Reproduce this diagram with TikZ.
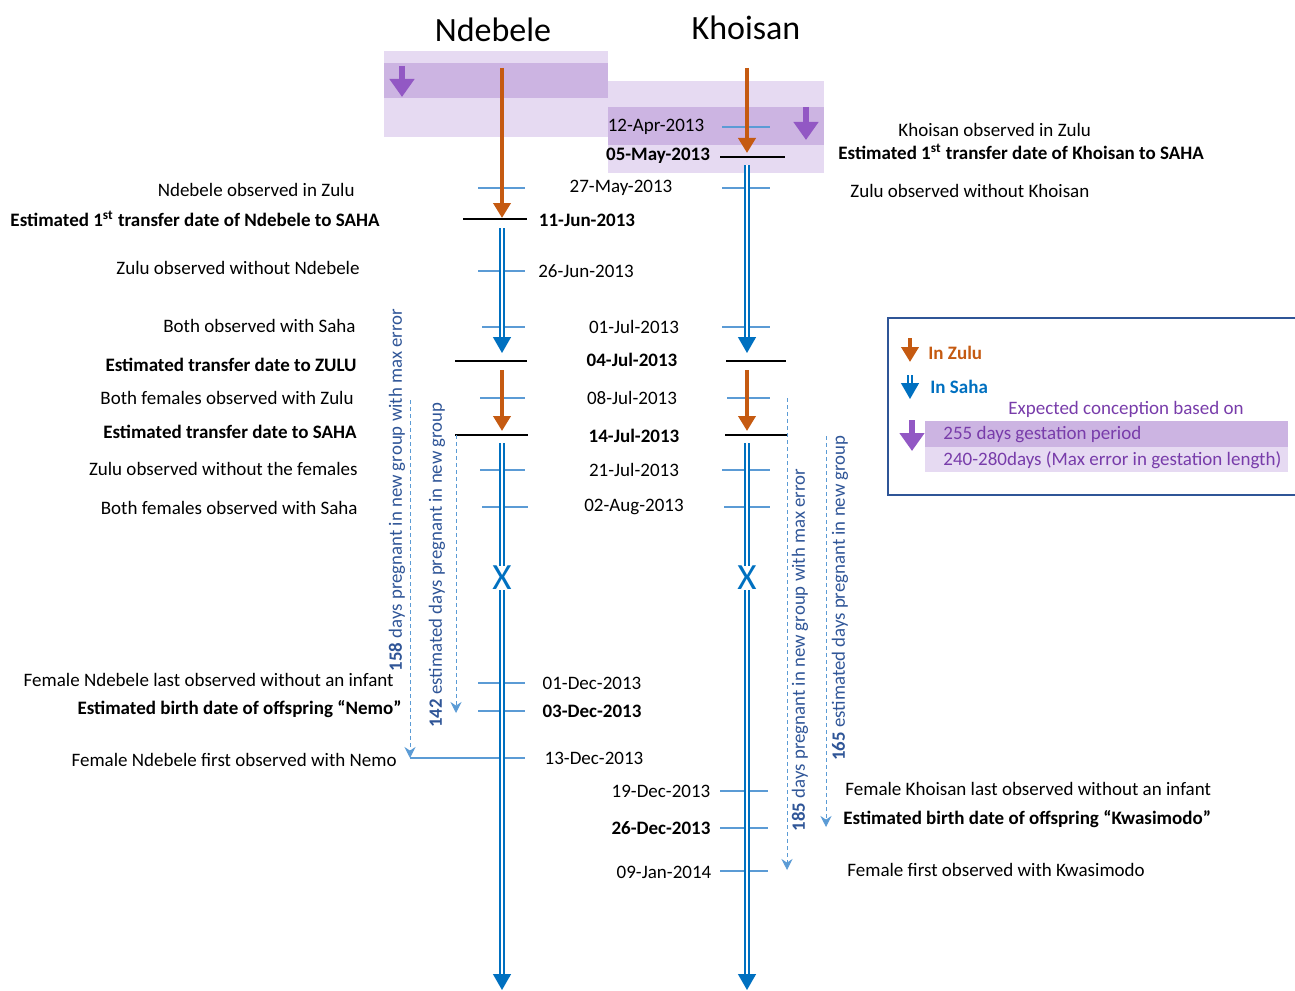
\documentclass[tikz,border=0pt]{standalone}
\usepackage{fontspec}
\setmainfont{Carlito}
\usetikzlibrary{arrows.meta, positioning}
\definecolor{zuluorange}{RGB}{197,90,17}
\definecolor{sahablue}{RGB}{0,112,192}
\definecolor{tickblue}{RGB}{91,155,213}
\definecolor{noteblue}{RGB}{47,85,151}
\definecolor{gestpurple}{RGB}{120,60,170}
\definecolor{arrowpurple}{RGB}{146,88,196}
\definecolor{lightpurple}{RGB}{230,218,242}
\definecolor{darkpurple}{RGB}{204,180,226}

\begin{document}
\begin{tikzpicture}[x=0.5pt, y=-0.5pt,
    lab/.style={font=\fontsize{9.5}{11}\selectfont, inner sep=0pt},
    blab/.style={font=\fontsize{9.5}{11}\selectfont\bfseries, inner sep=0pt},
    head/.style={font=\fontsize{17}{20}\selectfont},
    zulu/.style={draw=zuluorange, line width=2pt, -{Triangle[width=8.5pt,length=7.5pt]}},
    saha/.style={draw=sahablue, double=white, double distance=1.4pt, line width=0.7pt, -{Triangle[width=9pt,length=8pt]}},
    sahaline/.style={draw=sahablue, double=white, double distance=1.4pt, line width=0.7pt},
    bar/.style={draw=black, line width=1pt},
    tick/.style={draw=tickblue, line width=0.6pt},
    gest/.style={draw=tickblue, dash pattern=on 2pt off 1.5pt, line width=0.5pt, -{Stealth[width=5.5pt,length=5.5pt]}},
    note/.style={font=\fontsize{9.4}{10}\selectfont, text=noteblue, rotate=90, inner sep=0pt},
    conc/.style={draw=arrowpurple, line width=3pt, -{Triangle[width=12pt,length=9pt]}},
    cross/.style={font=\fontsize{18.5}{20}\selectfont, text=sahablue, inner sep=0pt},
  ]
  \useasboundingbox (0,0) rectangle (1295,990);
  \clip (0,0) rectangle (1295,990);

  % conception windows
  \fill[lightpurple] (384,51) rectangle (608,137);
  \fill[darkpurple] (384,63) rectangle (608,98);
  \fill[lightpurple] (608,81) rectangle (824,173);
  \fill[darkpurple] (608,107) rectangle (824,145);
  \draw[conc] (402,66) -- (402,97);
  \draw[conc] (806,107) -- (806,140);

  % headers
  \node[head] (ndebele) at (493,30) {Ndebele};
  \node[head] (khoisan) at (746,28) {Khoisan};

  % observation ticks
  \foreach \y/\a/\b in {188/478/525, 271/478/525, 327/482/525, 398/480/525, 470/480/525,
                        507/482/528, 683/478/525, 711/478/525, 758/410/525,
                        127/722/770, 188/722/770, 327/722/770, 398/727/770, 470/722/770,
                        507/724/770, 791/720/768, 828/720/768, 871/720/768}
    \draw[tick] (\a,\y) -- (\b,\y);

  % transfer bars
  \draw[bar] (463,219) -- (527,219);
  \draw[bar] (455,361) -- (527,361);
  \draw[bar] (455,435) -- (528,435);
  \draw[bar] (720,157) -- (785,157);
  \draw[bar] (726,361) -- (786,361);
  \draw[bar] (725,435) -- (787,435);

  % Ndebele line
  \coordinate (n0) at (502,68);
  \coordinate (n1) at (502,218);
  \coordinate (n2) at (502,228);
  \coordinate (n3) at (502,353);
  \coordinate (n4) at (502,370);
  \coordinate (n5) at (502,431);
  \coordinate (n6) at (502,443);
  \node[cross] (nx) at (502,578) {X};
  \coordinate (n7) at (502,990);
  \draw[zulu] (n0) -- (n1);
  \draw[saha] (n2) -- (n3);
  \draw[zulu] (n4) -- (n5);
  \draw[sahaline] (n6) -- (nx);
  \draw[saha] (nx) -- (n7);

  % Khoisan line
  \coordinate (k0) at (747,68);
  \coordinate (k1) at (747,153);
  \coordinate (k2) at (747,165);
  \coordinate (k3) at (747,353);
  \coordinate (k4) at (747,370);
  \coordinate (k5) at (747,431);
  \coordinate (k6) at (747,443);
  \node[cross] (kx) at (747,578) {X};
  \coordinate (k7) at (747,990);
  \draw[zulu] (k0) -- (k1);
  \draw[saha] (k2) -- (k3);
  \draw[zulu] (k4) -- (k5);
  \draw[sahaline] (k6) -- (kx);
  \draw[saha] (kx) -- (k7);

  % dates
  \node[lab] (d1) at (656,127) {12-Apr-2013};
  \node[blab] (d2) at (658,156) {05-May-2013};
  \node[lab] (d3) at (621,188) {27-May-2013};
  \node[blab] (d4) at (587,220) {11-Jun-2013};
  \node[lab] (d5) at (586,271) {26-Jun-2013};
  \node[lab] (d6) at (634,327) {01-Jul-2013};
  \node[blab] (d7) at (632,360) {04-Jul-2013};
  \node[lab] (d8) at (632,398) {08-Jul-2013};
  \node[blab] (d9) at (634,436) {14-Jul-2013};
  \node[lab] (d10) at (634,470) {21-Jul-2013};
  \node[lab] (d11) at (634,507) {02-Aug-2013};
  \node[lab] (d12) at (592,683) {01-Dec-2013};
  \node[blab] (d13) at (592,711) {03-Dec-2013};
  \node[lab] (d14) at (594,758) {13-Dec-2013};
  \node[lab] (d15) at (661,791) {19-Dec-2013};
  \node[blab] (d16) at (661,828) {26-Dec-2013};
  \node[lab] (d17) at (664,872) {09-Jan-2014};

  % Ndebele events
  \node[lab, anchor=east] (e1) at (355,190) {Ndebele observed in Zulu};
  \node[blab, anchor=east] (e2) at (380,219) {Estimated 1\textsuperscript{st} transfer date of Ndebele to SAHA};
  \node[lab, anchor=east] (e3) at (360,268) {Zulu observed without Ndebele};
  \node[lab, anchor=east] (e4) at (356,326) {Both observed with Saha};
  \node[blab, anchor=east] (e5) at (357,365) {Estimated transfer date to ZULU};
  \node[lab, anchor=east] (e6) at (354,398) {Both females observed with Zulu};
  \node[blab, anchor=east] (e7) at (357,432) {Estimated transfer date to SAHA};
  \node[lab, anchor=east] (e8) at (358,469) {Zulu observed without the females};
  \node[lab, anchor=east] (e9) at (358,508) {Both females observed with Saha};
  \node[lab, anchor=east] (e10) at (394,680) {Female Ndebele last observed without an infant};
  \node[blab, anchor=east] (e11) at (402,709) {Estimated birth date of offspring “Nemo”};
  \node[lab, anchor=east] (e12) at (397,760) {Female Ndebele first observed with Nemo};

  % Khoisan events
  \node[lab, anchor=west] (f1) at (898,130) {Khoisan observed in Zulu};
  \node[blab, anchor=west] (f2) at (838,152) {Estimated 1\textsuperscript{st} transfer date of Khoisan to SAHA};
  \node[lab, anchor=west] (f3) at (850,191) {Zulu observed without Khoisan};
  \node[lab, anchor=west] (f4) at (845,789) {Female Khoisan last observed without an infant};
  \node[blab, anchor=west] (f5) at (843,819) {Estimated birth date of offspring “Kwasimodo”};
  \node[lab, anchor=west] (f6) at (847,870) {Female first observed with Kwasimodo};

  % time pregnant in new group
  \coordinate (g1a) at (410,400);
  \coordinate (g1b) at (410,758);
  \coordinate (g2a) at (456,435);
  \coordinate (g2b) at (456,713);
  \coordinate (g3a) at (787,398);
  \coordinate (g3b) at (787,870);
  \coordinate (g4a) at (826,436);
  \coordinate (g4b) at (826,827);
  \draw[gest] (g1a) -- (g1b);
  \draw[gest] (g2a) -- (g2b);
  \draw[gest] (g3a) -- (g3b);
  \draw[gest] (g4a) -- (g4b);
  \node[note] (p1) at (397,490) {\textbf{158} days pregnant in new group with max error};
  \node[note] (p2) at (437,565) {\textbf{142} estimated days pregnant in new group};
  \node[note] (p3) at (800,650) {\textbf{185} days pregnant in new group with max error};
  \node[note] (p4) at (840,598) {\textbf{165} estimated days pregnant in new group};

  % legend
  \draw[noteblue, line width=1pt] (888,318) rectangle (1310,495);
  \draw[zulu] (910,338) -- (910,362);
  \node[blab, text=zuluorange, anchor=west] (lz) at (928,353) {In Zulu};
  \draw[saha] (910,375) -- (910,399);
  \node[blab, text=sahablue, anchor=west] (ls) at (930,387) {In Saha};
  \node[lab, text=gestpurple] (lc) at (1126,409) {Expected conception based on};
  \fill[darkpurple] (925,421) rectangle (1288,447);
  \fill[lightpurple] (925,447) rectangle (1288,472);
  \draw[conc] (912,420) -- (912,451);
  \node[lab, text=gestpurple, anchor=west] (lg1) at (943,435) {255 days gestation period};
  \node[lab, text=gestpurple, anchor=west] (lg2) at (943,460) {240-280days (Max error in gestation length)};
\end{tikzpicture}
\end{document}
